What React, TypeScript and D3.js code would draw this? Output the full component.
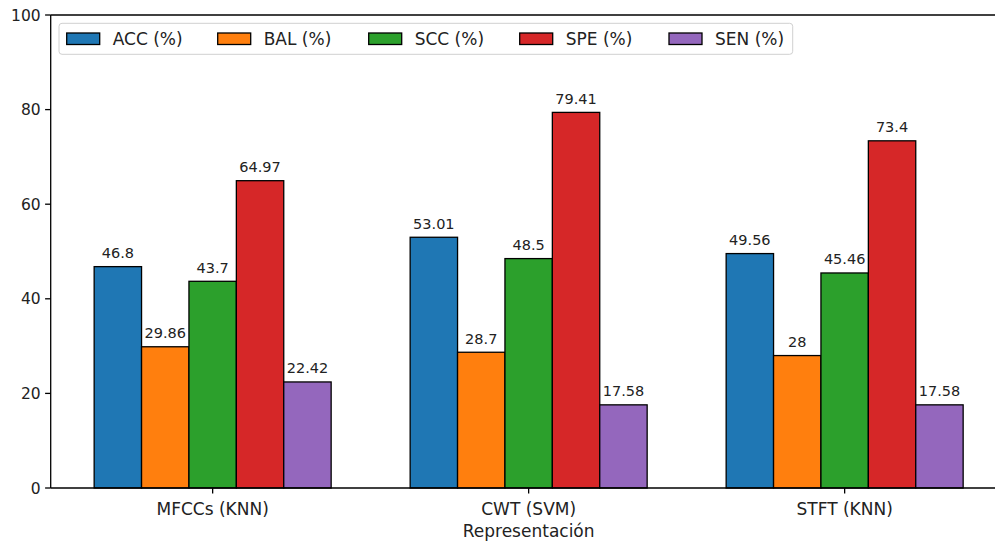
import React from "react";
import * as d3 from "d3";

const categories = ["MFCCs (KNN)", "CWT (SVM)", "STFT (KNN)"];
const seriesNames = ["ACC (%)", "BAL (%)", "SCC (%)", "SPE (%)", "SEN (%)"];
const colors = ["#1f77b4", "#ff7f0e", "#2ca02c", "#d62728", "#9467bd"];
const ACC = [46.8, 53.01, 49.56];
const BAL = [29.86, 28.7, 28];
const SCC = [43.7, 48.5, 45.46];
const SPE = [64.97, 79.41, 73.4];
const SEN = [22.42, 17.58, 17.58];
const seriesValues = [ACC, BAL, SCC, SPE, SEN];
const yTicks = [0, 20, 40, 60, 80, 100];
const labelText = ["46.8", "53.01", "49.56", "29.86", "28.7", "28", "43.7", "48.5", "45.46", "64.97", "79.41", "73.4", "22.42", "17.58", "17.58"];

const W = 995;
const H = 544;
const left = 50.7;
const top = 15;
const bottom = 488;
const barW = 0.15;

export default function App() {
  const x = d3.scaleLinear().domain([-0.5125, 2.5125]).range([left, left + 316 * 3.025]);
  const y = d3.scaleLinear().domain([0, 100]).range([bottom, top]);
  const font = "'DejaVu Sans', sans-serif";
  const legendX = [66.7, 217.7, 368.7, 519.7, 669];
  const txt = "#222";

  return (
    <svg width={W} height={H} style={{ position: "absolute", left: 0, top: 0 }} fontFamily={font}>
      <rect width={W} height={H} fill="#fff" />
      {seriesValues.map((vals, si) =>
        vals.map((v, ci) => {
          const off = (si - 2) * barW;
          const x0 = x(ci + off - barW / 2);
          const x1 = x(ci + off + barW / 2);
          return (
            <g key={`${si}-${ci}`}>
              <rect x={x0} y={y(v)} width={x1 - x0} height={y(0) - y(v)} fill={colors[si]} stroke="#000" strokeWidth={1.3} />
              <text x={(x0 + x1) / 2} y={y(v) - 8.6} textAnchor="middle" fontSize={14.5} fill={txt}>
                {labelText[si * 3 + ci]}
              </text>
            </g>
          );
        })
      )}
      {/* spines */}
      <line x1={left} x2={left} y1={top} y2={bottom} stroke="#000" strokeWidth={1.3} />
      <line x1={left} x2={W} y1={bottom} y2={bottom} stroke="#000" strokeWidth={1.3} />
      <line x1={left} x2={W} y1={top} y2={top} stroke="#000" strokeWidth={1.3} />
      {yTicks.map((t) => (
        <g key={t}>
          <line x1={left - 5.6} x2={left} y1={y(t)} y2={y(t)} stroke="#000" strokeWidth={1.3} />
          <text x={left - 10} y={y(t)} dy="0.36em" textAnchor="end" fontSize={15.5} fill={txt}>
            {t}
          </text>
        </g>
      ))}
      {categories.map((c, i) => (
        <g key={c}>
          <line x1={x(i)} x2={x(i)} y1={bottom} y2={bottom + 5.6} stroke="#000" strokeWidth={1.3} />
          <text x={x(i)} y={515} textAnchor="middle" fontSize={17} fill={txt}>
            {c}
          </text>
        </g>
      ))}
      <text x={x(1)} y={537} textAnchor="middle" fontSize={17} fill={txt}>
        Representación
      </text>
      {/* legend */}
      <rect x={59} y={23.3} width={733.7} height={31} rx={3} fill="#fff" fillOpacity={0.8} stroke="#d0d0d0" strokeWidth={1} />
      {seriesNames.map((n, i) => (
        <g key={n}>
          <rect x={legendX[i]} y={33} width={33} height={11.5} fill={colors[i]} stroke="#000" strokeWidth={1.3} />
          <text x={legendX[i] + 46} y={39} dy="0.36em" fontSize={17} fill={txt}>
            {n}
          </text>
        </g>
      ))}
    </svg>
  );
}
